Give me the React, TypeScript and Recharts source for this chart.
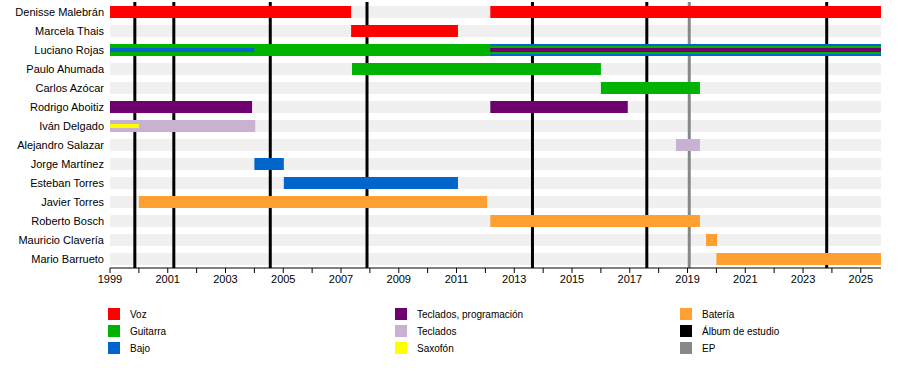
import React from 'react';
import { ComposedChart, Bar, Cell, XAxis, YAxis, ReferenceLine } from 'recharts';

const START = 1999;
const END = 2025.7;

const members = [
  'Denisse Malebrán',
  'Marcela Thais',
  'Luciano Rojas',
  'Paulo Ahumada',
  'Carlos Azócar',
  'Rodrigo Aboitiz',
  'Iván Delgado',
  'Alejandro Salazar',
  'Jorge Martínez',
  'Esteban Torres',
  'Javier Torres',
  'Roberto Bosch',
  'Mauricio Clavería',
  'Mario Barrueto',
];

const roles = ['Voz', 'Guitarra', 'Bajo', 'Teclados, programación', 'Teclados', 'Saxofón', 'Batería'];
const roleColors = ['#ff0000', '#00b300', '#0066cc', '#6f006f', '#c9b2d1', '#ffff00', '#ffa030'];

// [member, role, from, to]
type Span = [string, string, number, number];

// full height bars (later ones drawn on top)
const thickSpans: Span[] = [
  ['Denisse Malebrán', 'Voz', 1999, 2007.35],
  ['Denisse Malebrán', 'Voz', 2012.17, END],
  ['Marcela Thais', 'Voz', 2007.35, 2011.05],
  ['Luciano Rojas', 'Guitarra', 1999, END],
  ['Luciano Rojas', 'Bajo', 2012.17, END],
  ['Paulo Ahumada', 'Guitarra', 2007.38, 2016.0],
  ['Carlos Azócar', 'Guitarra', 2016.0, 2019.43],
  ['Rodrigo Aboitiz', 'Teclados, programación', 1999, 2003.92],
  ['Rodrigo Aboitiz', 'Teclados, programación', 2012.17, 2016.93],
  ['Iván Delgado', 'Teclados', 1999, 2004.03],
  ['Alejandro Salazar', 'Teclados', 2018.6, 2019.43],
  ['Jorge Martínez', 'Bajo', 2004.0, 2005.02],
  ['Esteban Torres', 'Bajo', 2005.02, 2011.05],
  ['Javier Torres', 'Batería', 2000.0, 2012.06],
  ['Roberto Bosch', 'Batería', 2012.17, 2019.43],
  ['Mauricio Clavería', 'Batería', 2019.64, 2020.02],
  ['Mario Barrueto', 'Batería', 2020.0, END],
];

// secondary roles, narrower bars
const midSpans: Span[] = [['Luciano Rojas', 'Guitarra', 2012.17, END]];

const thinSpans: Span[] = [
  ['Luciano Rojas', 'Bajo', 1999, 2004.0],
  ['Iván Delgado', 'Saxofón', 1999, 2000.0],
  ['Luciano Rojas', 'Teclados, programación', 2012.17, END],
];

const albums = [1999.86, 2001.21, 2004.55, 2007.9, 2013.63, 2017.59, 2023.82];
const eps = [2019.06];

const yearTicks = [
  1999, 2000, 2001, 2002, 2003, 2004, 2005, 2006, 2007, 2008, 2009, 2010, 2011, 2012,
  2013, 2014, 2015, 2016, 2017, 2018, 2019, 2020, 2021, 2022, 2023, 2024, 2025,
];

const legendLabels = [...roles, 'Álbum de estudio', 'EP'];
const legendColors = [...roleColors, '#000000', '#888888'];

const FONT = '"Liberation Sans", Arial, sans-serif';

// one hidden category axis per slot so bars of different widths overlap
const layers = [
  { key: 'thick', spans: thickSpans, size: 12 },
  { key: 'mid', spans: midSpans, size: 8 },
  { key: 'thin', spans: thinSpans, size: 4 },
].flatMap(({ key, spans, size }) => {
  const slots: Span[][] = [];
  const seen: Record<string, number> = {};
  spans.forEach((s) => {
    const i = seen[s[0]] ?? 0;
    seen[s[0]] = i + 1;
    (slots[i] ||= []).push(s);
  });
  return slots.map((list, i) => ({ id: `${key}${i}`, size, list }));
});

const chartData = members.map((name) => {
  const row: Record<string, any> = { name, bg: [START, END] };
  layers.forEach((l) => {
    const s = l.list.find((x) => x[0] === name);
    if (s) {
      row[l.id] = [s[2], s[3]];
      row[l.id + 'Color'] = roleColors[roles.indexOf(s[1])];
    }
  });
  return row;
});

// single-line member names
const NameTick = (props: any) => {
  const { x, y, payload } = props;
  return (
    <text x={x} y={y} dy={4} textAnchor="end" fontSize={11} fill="#000" fontFamily={FONT}>
      {payload.value}
    </text>
  );
};

const App: React.FC = () => {
  return (
    <div style={{ position: 'absolute', left: 0, top: 0, width: 900, height: 385, background: '#fff', fontFamily: FONT }}>
      <ComposedChart
        width={900}
        height={385}
        layout="vertical"
        data={chartData}
        margin={{ top: 2, right: 19, bottom: 97, left: 0 }}
      >
        <XAxis
          type="number"
          domain={[START, END]}
          allowDataOverflow
          ticks={yearTicks}
          interval={0}
          tickFormatter={(v) => (v % 2 === 1 ? String(v) : '')}
          height={20}
          tickSize={5}
          tickMargin={2}
          axisLine={{ stroke: '#000' }}
          tickLine={{ stroke: '#000' }}
          tick={{ fontSize: 11, fill: '#000', fontFamily: FONT }}
        />
        <YAxis
          yAxisId="bg"
          type="category"
          dataKey="name"
          width={110}
          axisLine={false}
          tickLine={false}
          tickSize={0}
          tickMargin={6}
          interval={0}
          tick={<NameTick />}
        />
        {layers.map((l) => (
          <YAxis key={l.id} yAxisId={l.id} type="category" dataKey="name" hide />
        ))}

        {/* grey row stripes */}
        <Bar yAxisId="bg" dataKey="bg" barSize={12} fill="#f0f0f0" isAnimationActive={false} zIndex={-10} />

        {/* releases */}
        {albums.map((a) => (
          <ReferenceLine key={a} yAxisId="bg" x={a} stroke="#000" strokeWidth={3} zIndex={0} />
        ))}
        {eps.map((e) => (
          <ReferenceLine key={e} yAxisId="bg" x={e} stroke="#888" strokeWidth={3} zIndex={0} />
        ))}

        {layers.map((l) => (
          <Bar key={l.id} yAxisId={l.id} dataKey={l.id} barSize={l.size} isAnimationActive={false}>
            {chartData.map((row) => (
              <Cell key={row.name} fill={row[l.id + 'Color'] ?? 'transparent'} />
            ))}
          </Bar>
        ))}
      </ComposedChart>

      {/* Legend */}
      {legendLabels.map((label, i) => (
        <div
          key={label}
          style={{
            position: 'absolute',
            left: [108, 395, 680][Math.floor(i / 3)],
            top: 308 + (i % 3) * 17,
            display: 'flex',
            alignItems: 'center',
            fontSize: 10,
            color: '#000',
          }}
        >
          <span style={{ width: 12, height: 12, background: legendColors[i], marginRight: 10 }} />
          {label}
        </div>
      ))}
    </div>
  );
};

export default App;
